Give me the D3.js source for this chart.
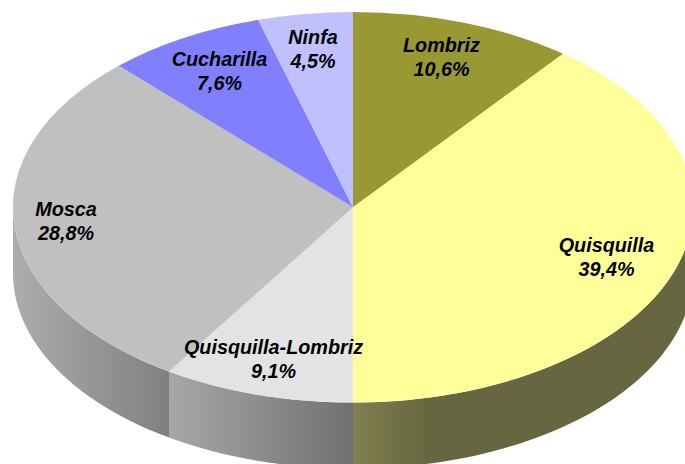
<!DOCTYPE html>
<html><head><meta charset="utf-8">
<script src="https://cdn.jsdelivr.net/npm/d3@7"></script>
<style>html,body{margin:0;padding:0;background:#fff;overflow:hidden}svg{display:block}</style>
</head><body><svg id="c" width="685" height="464"></svg>
<script>
const categories = ["Lombriz","Quisquilla","Quisquilla-Lombriz","Mosca","Cucharilla","Ninfa"];
const shares = [10.6,39.4,9.1,28.8,7.6,4.5];

const topColors = ["#999933","#ffff99","#e3e3e3","#c0c0c0","#8080ff","#c0c0ff"];
const wallStops = [null,
  [[0,"#808050"],[0.22,"#666640"],[1,"#666640"]],
  [[0,"#a8a8a8"],[1,"#707070"]],
  [[0,"#adadad"],[1,"#808080"]],
  null,null];
const labelPos = [[441.5,52],[606.5,252],[273.5,354],[66,216],[219.5,66],[313,44]];

const cx=353, cy=207.3, rx=340, ry=195.3, depth=66;
const svg=d3.select("#c");
const pieGen=d3.pie().sort(null).value(d=>d);
const arcs=pieGen(shares);
const defs=svg.append("defs");
const sx=d3.scaleLinear().domain([0,1]).range([0,rx]);
const sy=d3.scaleLinear().domain([0,1]).range([0,ry]);
const edge=a=>[cx+sx(Math.sin(a)),cy-sy(Math.cos(a))];

// walls: only the part of each slice facing the viewer (angle between 90 and 270 deg)
const wallG=svg.append("g");
arcs.forEach((d,i)=>{
  const a0=Math.max(d.startAngle,Math.PI/2), a1=Math.min(d.endAngle,3*Math.PI/2);
  if(a1<=a0||!wallStops[i]) return;
  const pts=d3.range(0,61).map(k=>edge(a0+(a1-a0)*k/60));
  const xs=pts.map(p=>p[0]);
  const g=defs.append("linearGradient").attr("id","w"+i).attr("gradientUnits","userSpaceOnUse")
    .attr("x1",d3.min(xs)).attr("x2",d3.max(xs)).attr("y1",0).attr("y2",0);
  const stops=wallStops[i];
  stops.forEach(s=>g.append("stop").attr("offset",s[0]).attr("stop-color",s[1]));
  const poly=pts.concat(pts.slice().reverse().map(p=>[p[0],p[1]+depth]));
  wallG.append("path").attr("d",d3.line()(poly)+"Z").attr("fill",`url(#w${i})`);
});

// top face
const arc=d3.arc().innerRadius(0).outerRadius(1);
svg.append("g").attr("transform",`translate(${cx},${cy}) scale(${rx},${ry})`)
  .selectAll("path").data(arcs).join("path")
  .attr("d",arc).attr("fill",(d,i)=>topColors[i]);

// labels
const lab=svg.append("g").attr("font-family","'Liberation Sans',Arial,sans-serif")
  .attr("font-size",19.8).attr("font-weight","bold").attr("font-style","italic")
  .attr("text-anchor","middle").attr("fill","#000");
const fmt=v=>v.toFixed(1).replace(".",",")+"%";
categories.forEach((c,i)=>{
  const t=lab.append("text").attr("x",labelPos[i][0]).attr("y",labelPos[i][1]);
  t.append("tspan").attr("x",labelPos[i][0]).text(c);
  t.append("tspan").attr("x",labelPos[i][0]).attr("dy",24).text(fmt(shares[i]));
});
</script></body></html>
